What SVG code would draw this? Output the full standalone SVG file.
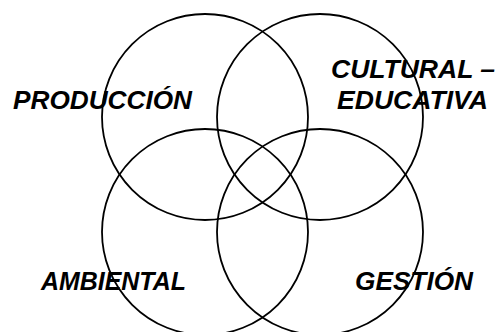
<svg xmlns="http://www.w3.org/2000/svg" width="498" height="332" viewBox="0 0 498 332">
<style>
.c{fill:none;stroke:#000;stroke-width:1.8}
.t{font-family:"Liberation Sans",Arial,sans-serif;font-weight:bold;font-style:italic;font-size:25px;fill:#000}
</style>
<rect width="498" height="332" fill="#fff"/>
<g id="produccion"><circle class="c" cx="205" cy="117" r="103"/><text class="t" x="13" y="109" textLength="179" lengthAdjust="spacingAndGlyphs">PRODUCCIÓN</text></g>
<g id="cultural"><circle class="c" cx="320" cy="117" r="103"/><text class="t" x="331" y="78" textLength="164" lengthAdjust="spacingAndGlyphs">CULTURAL –</text><text class="t" x="337" y="109" textLength="151" lengthAdjust="spacingAndGlyphs">EDUCATIVA</text></g>
<g id="ambiental"><circle class="c" cx="205" cy="232" r="103"/><text class="t" x="41" y="290" textLength="145" lengthAdjust="spacingAndGlyphs">AMBIENTAL</text></g>
<g id="gestion"><circle class="c" cx="320" cy="232" r="103"/><text class="t" x="355" y="290" textLength="118" lengthAdjust="spacingAndGlyphs">GESTIÓN</text></g>
<g id="connectors"></g>
</svg>
